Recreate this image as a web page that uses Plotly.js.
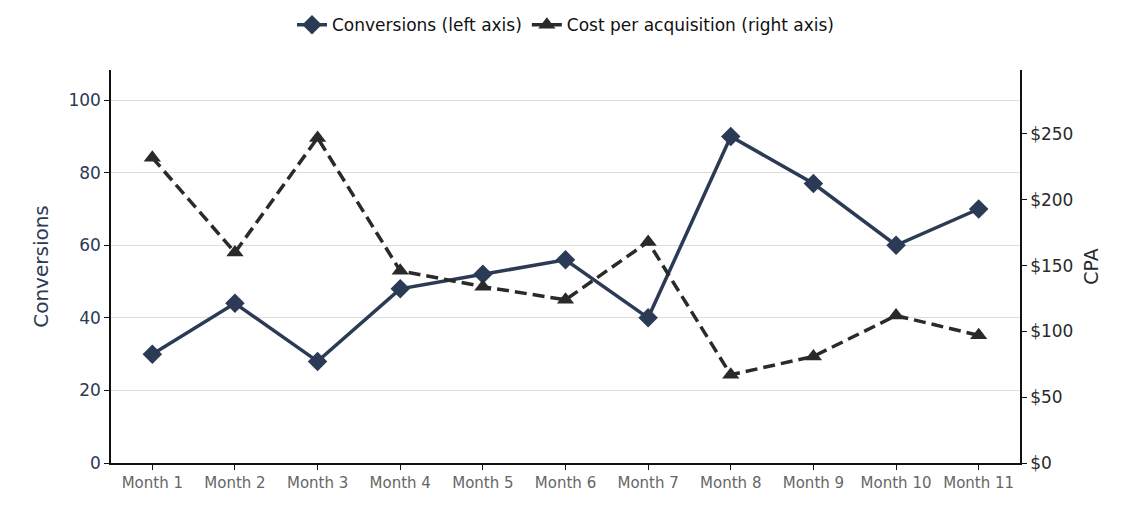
<!DOCTYPE html>
<html>
<head>
<script src="https://cdn.plot.ly/plotly-3.0.1.min.js"></script>
<style>body{margin:0}</style>
</head>
<body>
<div id="chart" style="width:1132px;height:518px"></div>
<script>
const months = ["Month 1","Month 2","Month 3","Month 4","Month 5","Month 6","Month 7","Month 8","Month 9","Month 10","Month 11"];
const conversions = [30, 44, 28, 48, 52, 56, 40, 90, 77, 60, 70];
const cpa = [232, 160, 247, 146, 134, 124, 168, 67, 81, 112, 97];

const navy = "#2b3a55";
const dark = "#2a2a2a";

const data = [
    {
        x: months, y: conversions, name: "Conversions (left axis)",
        type: "scatter", mode: "lines+markers",
        line: {color: navy, width: 3.5},
        marker: {symbol: "diamond", size: 15, color: navy}
    },
    {
        x: months, y: cpa, name: "Cost per acquisition (right axis)",
        type: "scatter", mode: "lines+markers", yaxis: "y2",
        line: {color: dark, width: 3.5, dash: "12px,6px"},
        marker: {symbol: "triangle-up", size: 15, color: dark}
    }
];

const layout = {
    width: 1132, height: 518,
    margin: {l: 111, r: 112, t: 70, b: 55, autoexpand: false},
    font: {family: "DejaVu Sans", size: 15},
    paper_bgcolor: "white", plot_bgcolor: "white",
    showlegend: true,
    legend: {orientation: "h", x: 0.5, xanchor: "center", y: 1.114, yanchor: "middle", font: {size: 17, color: "#111"}},
    xaxis: {
        range: [-0.5, 10.5], showgrid: false, showline: true, linecolor: "#111", linewidth: 1.5,
        ticks: "outside", ticklen: 5, tickcolor: "#111",
        tickfont: {size: 15, color: "#666"}
    },
    yaxis: {
        range: [0, 108.3], dtick: 20, showgrid: true, gridcolor: "#dddddd", zeroline: false,
        showline: true, linecolor: "#111", linewidth: 1.5, ticks: "outside", ticklen: 5, tickcolor: "#111",
        tickfont: {size: 17, color: navy},
        title: {text: "Conversions", font: {size: 20, color: navy}, standoff: 14}
    },
    yaxis2: {
        overlaying: "y", side: "right", range: [0, 298.6], dtick: 50, tickprefix: "$",
        showgrid: false, zeroline: false, showline: true, linecolor: "#111", linewidth: 1.5,
        ticks: "outside", ticklen: 5, tickcolor: "#111",
        tickfont: {size: 17, color: dark},
        title: {text: "CPA", font: {size: 19, color: dark}, standoff: 12}
    }
};

Plotly.newPlot("chart", data, layout, {displayModeBar: false});
</script>
</body>
</html>
